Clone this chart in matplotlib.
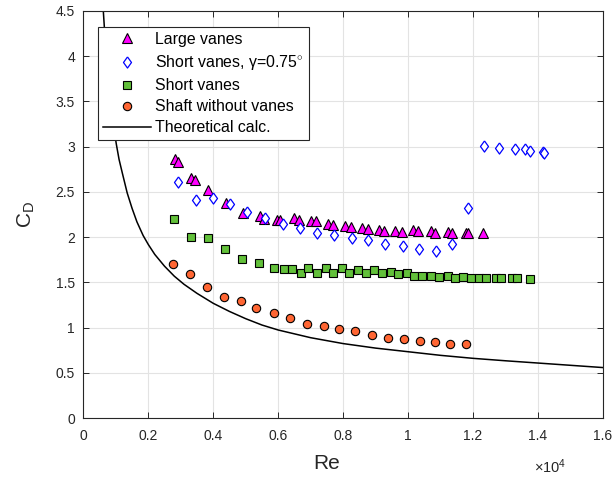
import matplotlib
matplotlib.use("Agg")
import matplotlib.pyplot as plt
from matplotlib.ticker import FuncFormatter

plt.rcParams['font.family'] = ['Liberation Sans', 'DejaVu Sans']
plt.rcParams['mathtext.fontset'] = 'custom'
plt.rcParams['mathtext.rm'] = 'Liberation Sans'
plt.rcParams['mathtext.it'] = 'Liberation Sans:italic'

# Large vanes (triangles)
re_large = [2820, 2900, 3330, 3440, 3850, 4390, 4920, 5440, 5570, 5950, 6050,
            6480, 6640, 7000, 7150, 7540, 7690, 8050, 8230, 8570, 8770,
            9100, 9260, 9610, 9800, 10150, 10310, 10700, 10820, 11230,
            11340, 11770, 11850, 12310]
cd_large = [2.86, 2.83, 2.65, 2.63, 2.52, 2.38, 2.27, 2.23, 2.20, 2.19, 2.19,
            2.21, 2.19, 2.18, 2.18, 2.15, 2.14, 2.12, 2.11, 2.10, 2.09,
            2.08, 2.07, 2.07, 2.06, 2.08, 2.07, 2.07, 2.05, 2.06,
            2.05, 2.05, 2.045, 2.05]

# Short vanes, gamma = 0.75 deg (diamonds)
re_gamma = [2920, 3470, 3980, 4530, 5050, 5590, 6150, 6670, 7190, 7720, 8260,
            8770, 9280, 9830, 10340, 10850, 11340, 11830,
            12330, 12800, 13280, 13610, 13740, 14150, 14190]
cd_gamma = [2.605, 2.41, 2.435, 2.365, 2.28, 2.21, 2.145, 2.10, 2.05, 2.02, 1.99,
            1.975, 1.93, 1.90, 1.87, 1.85, 1.93, 2.32,
            3.01, 2.99, 2.97, 2.97, 2.955, 2.945, 2.93]

# Short vanes (squares)
re_short = [2790, 3320, 3830, 4360, 4870, 5410, 5880, 6170, 6410, 6690, 6920,
            7200, 7460, 7700, 7950, 8180, 8460, 8700, 8950, 9190, 9460,
            9690, 9960, 10180, 10440, 10700, 10950, 11220, 11450, 11700,
            11930, 12180, 12400, 12700, 12870, 13200, 13350, 13740]
cd_short = [2.20, 2.00, 1.99, 1.865, 1.765, 1.715, 1.66, 1.65, 1.65, 1.61, 1.655,
            1.61, 1.665, 1.61, 1.66, 1.605, 1.635, 1.61, 1.635, 1.61, 1.62,
            1.59, 1.60, 1.575, 1.575, 1.575, 1.56, 1.57, 1.555, 1.565,
            1.55, 1.555, 1.55, 1.555, 1.545, 1.55, 1.548, 1.54]

# Shaft without vanes (circles)
re_shaft = [2770, 3280, 3800, 4330, 4850, 5310, 5870, 6370, 6880, 7400, 7880,
            8370, 8890, 9380, 9870, 10360, 10820, 11290, 11780]
cd_shaft = [1.70, 1.59, 1.45, 1.335, 1.295, 1.215, 1.16, 1.105, 1.045, 1.02, 0.99,
            0.96, 0.92, 0.89, 0.875, 0.857, 0.842, 0.818, 0.82]

# Theoretical calculation
re_theory = [615, 660, 720, 800, 900, 1015, 1100, 1200, 1350, 1500, 1650,
             1840, 2000, 2200, 2500, 2800, 3100, 3500, 4000, 4500, 5000,
             5500, 6000, 7000, 8000, 9000, 10000, 11000, 12000, 13000,
             14000, 15000, 16000]
cd_theory = [4.5, 4.25, 3.95, 3.62, 3.30, 3.03, 2.86, 2.71, 2.49, 2.32, 2.17,
             2.02, 1.92, 1.81, 1.68, 1.57, 1.48, 1.38, 1.27, 1.18, 1.10,
             1.03, 0.975, 0.89, 0.825, 0.775, 0.735, 0.695, 0.662, 0.635,
             0.61, 0.585, 0.56]

fig = plt.figure(figsize=(6.15, 4.78), dpi=100)
ax = fig.add_axes([0.1355, 0.125, 0.845, 0.852])

ax.plot(re_large, cd_large, linestyle='none', marker='^', markersize=7.5,
        markerfacecolor='#ff00ff', markeredgecolor='black', markeredgewidth=0.8,
        label='Large vanes', zorder=3)
diamond = [(0, 1), (0.72, 0), (0, -1), (-0.72, 0), (0, 1)]
ax.plot(re_gamma, cd_gamma, linestyle='none', marker=diamond, markersize=8,
        markerfacecolor='white', markeredgecolor='#0000ff', markeredgewidth=0.9,
        label='Short vanes, γ=0.75$^{\\circ}$', zorder=3)
ax.plot(re_short, cd_short, linestyle='none', marker='s', markersize=5.3,
        markerfacecolor='#62c03a', markeredgecolor='black', markeredgewidth=0.8,
        label='Short vanes', zorder=3)
ax.plot(re_shaft, cd_shaft, linestyle='none', marker='o', markersize=6,
        markerfacecolor='#ff6633', markeredgecolor='black', markeredgewidth=0.8,
        label='Shaft without vanes', zorder=3)
ax.plot(re_theory, cd_theory, color='black', linewidth=1.1,
        label='Theoretical calc.', zorder=2)

ax.set_xlim(0, 16000)
ax.set_ylim(0, 4.5)
ax.set_xticks([0, 2000, 4000, 6000, 8000, 10000, 12000, 14000, 16000])
ax.set_yticks([0, 0.5, 1, 1.5, 2, 2.5, 3, 3.5, 4, 4.5])
ax.xaxis.set_major_formatter(FuncFormatter(lambda v, p: '%g' % (v / 1e4)))
ax.yaxis.set_major_formatter(FuncFormatter(lambda v, p: '%g' % v))

ax.grid(True, color='#e3e3e3', linewidth=0.8)
ax.set_axisbelow(True)
ax.tick_params(direction='in', length=4, width=0.7, colors='#262626',
               labelsize=10, top=True, right=True, pad=6)
ax.tick_params(axis='x', pad=8)
for s in ax.spines.values():
    s.set_color('#262626')
    s.set_linewidth(0.8)

ax.set_xlabel('Re', fontsize=15, color='#262626', va='center')
ax.xaxis.set_label_coords(0.469, -0.11)
ax.set_ylabel('$\\mathregular{C_D}$', fontsize=15, color='#262626', va='center')
ax.yaxis.set_label_coords(-0.11, 0.5)
ax.text(0.93, -0.118, '$\\times\\mathregular{10^4}$', transform=ax.transAxes,
        fontsize=10.5, color='#262626', ha='right', va='center')

leg = ax.legend(loc='upper left', bbox_to_anchor=(0.029, 0.96), borderaxespad=0,
                fontsize=11.4, fancybox=False, framealpha=1, edgecolor='#262626',
                handlelength=3.0, handletextpad=0.3, labelspacing=0.38,
                borderpad=0.3)
leg.get_frame().set_linewidth(0.8)

fig.savefig('out.png', dpi=100)
